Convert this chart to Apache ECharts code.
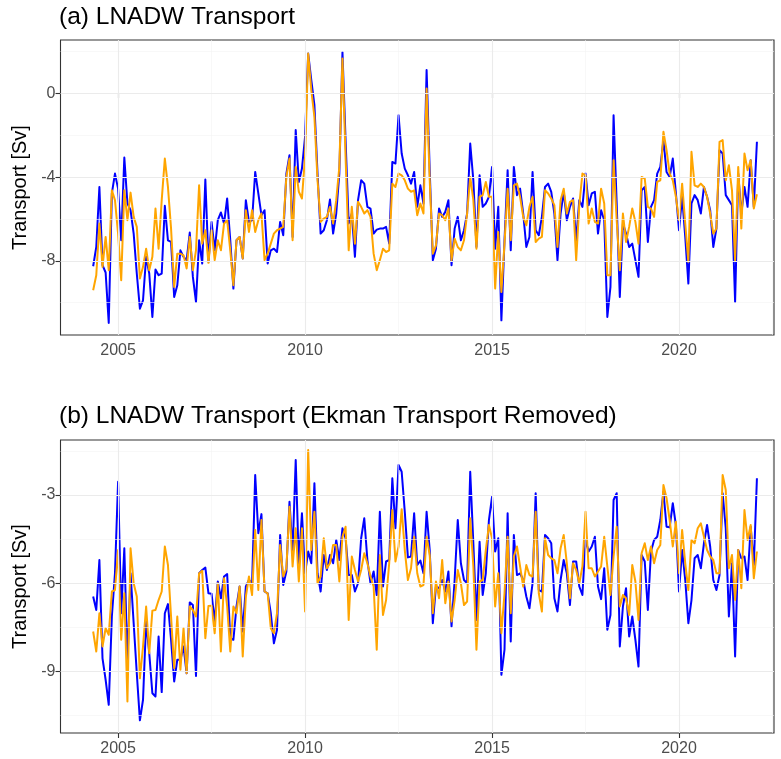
<!DOCTYPE html>
<html>
<head>
<meta charset="utf-8">
<title>LNADW Transport</title>
<script src="https://cdn.jsdelivr.net/npm/echarts@6/dist/echarts.min.js"></script>
<style>
  html, body { margin: 0; padding: 0; background: #ffffff; }
  #chart { width: 781px; height: 759px; }
</style>
</head>
<body>
<div id="chart"></div>
<script>
// Monthly series starting May 2004
const START_YEAR = 2004;
const START_MONTH = 5;

// (a) LNADW transport [Sv]
const blueA = [
  -8.26, -7.34, -4.47, -8.21, -8.56, -10.97, -4.78, -3.83, -4.55, -7.02,
  -3.06, -5.26, -5.58, -6.70, -8.61, -10.29, -9.89, -7.81, -8.61, -10.69,
  -8.42, -8.69, -8.61, -5.37, -7.02, -7.10, -9.73, -9.17, -7.50, -7.81,
  -7.97, -6.65, -8.77, -9.97, -7.02, -8.13, -4.11, -8.05, -6.14, -7.50,
  -6.06, -5.69, -6.22, -5.02, -7.02, -9.33, -7.02, -6.86, -7.89, -5.10,
  -6.14, -6.06, -3.75, -4.78, -5.82, -5.58, -8.13, -7.50, -7.42, -7.58,
  -6.14, -6.78, -3.83, -2.95, -6.86, -1.75, -4.23, -3.59, -2.07, 1.91,
  0.64, -0.56, -3.83, -6.70, -6.54, -6.06, -5.07, -6.70, -5.74, -3.83,
  1.98, -2.23, -6.22, -5.74, -7.81, -5.10, -4.15, -4.31, -5.42, -5.50,
  -6.70, -6.51, -6.46, -6.46, -6.38, -7.18, -3.27, -3.35, -1.04, -2.87,
  -3.59, -3.91, -4.31, -3.75, -5.42, -4.39, -5.26, 1.12, -3.67, -7.97,
  -7.42, -5.50, -5.90, -5.66, -5.10, -8.21, -6.46, -5.90, -7.02, -6.54,
  -5.74, -2.39, -4.15, -7.34, -3.91, -5.42, -5.26, -4.94, -3.51, -7.42,
  -5.42, -10.85, -7.02, -3.67, -7.50, -3.51, -4.86, -4.55, -5.74, -7.34,
  -6.86, -3.75, -6.54, -6.78, -5.90, -4.47, -4.31, -4.70, -5.74, -7.97,
  -5.74, -4.70, -6.06, -5.42, -5.02, -7.02, -5.10, -5.42, -3.83, -5.34,
  -4.78, -4.70, -6.70, -5.58, -6.06, -10.69, -9.25, -1.04, -5.26, -9.73,
  -6.22, -6.70, -7.34, -7.18, -7.97, -8.77, -4.63, -4.47, -7.10, -5.42,
  -5.10, -3.83, -3.51, -2.23, -3.75, -3.99, -3.11, -4.78, -6.54, -4.94,
  -6.86, -9.09, -5.26, -4.86, -5.10, -5.74, -4.47, -4.94, -5.58, -7.34,
  -6.46, -2.71, -2.87, -4.86, -5.10, -5.34, -9.97, -3.83, -5.74, -4.47,
  -5.42, -3.19, -5.42, -2.31
];
const orangeA = [
  -9.41, -8.69, -6.22, -8.29, -6.86, -8.45, -4.63, -5.10, -6.70, -8.93,
  -4.63, -6.06, -4.74, -5.90, -6.38, -8.85, -8.29, -7.42, -8.45, -7.81,
  -5.50, -7.42, -5.10, -3.11, -4.47, -6.46, -9.25, -7.66, -7.66, -7.74,
  -8.37, -6.86, -8.45, -7.50, -4.39, -7.18, -6.54, -8.10, -6.54, -7.97,
  -7.02, -7.50, -6.22, -6.06, -7.50, -9.17, -7.02, -6.86, -7.89, -5.58,
  -6.62, -5.58, -6.62, -6.06, -5.74, -7.97, -7.66, -7.18, -6.70, -6.54,
  -6.46, -6.38, -3.99, -3.11, -7.02, -3.51, -4.70, -5.02, -3.03, 1.91,
  0.16, -1.12, -4.15, -6.14, -5.98, -5.90, -5.42, -6.22, -5.10, -3.51,
  1.67, -3.03, -7.50, -5.42, -7.18, -5.18, -5.42, -5.74, -5.58, -5.90,
  -7.66, -8.45, -7.97, -7.42, -7.58, -7.50, -4.31, -4.47, -3.83, -3.91,
  -4.15, -4.55, -4.70, -4.63, -5.82, -5.26, -5.74, 0.24, -4.15, -7.66,
  -7.26, -5.74, -5.82, -6.06, -5.50, -7.97, -6.94, -7.34, -7.50, -7.02,
  -5.74, -3.99, -5.10, -7.42, -4.94, -4.86, -4.23, -4.94, -4.94, -9.33,
  -6.62, -9.49, -7.18, -4.55, -7.02, -4.39, -4.31, -4.94, -5.90, -6.30,
  -5.42, -4.94, -7.10, -6.94, -6.86, -4.63, -4.78, -5.02, -5.34, -7.34,
  -5.10, -4.55, -5.74, -5.18, -5.10, -7.97, -5.34, -3.83, -3.91, -6.22,
  -5.50, -6.14, -6.22, -4.55, -5.26, -8.69, -8.69, -3.19, -6.06, -8.45,
  -5.74, -7.10, -6.38, -5.50, -6.14, -7.18, -3.99, -4.07, -5.42, -5.50,
  -5.90, -4.23, -4.15, -1.83, -2.71, -3.83, -4.15, -4.94, -6.06, -4.31,
  -6.22, -8.05, -2.79, -4.39, -4.47, -4.31, -4.47, -4.94, -5.74, -6.70,
  -6.46, -2.31, -2.23, -4.15, -3.43, -4.63, -7.97, -3.51, -6.46, -2.87,
  -3.67, -3.19, -5.50, -4.82
];

// (b) LNADW transport with Ekman transport removed [Sv]
const blueB = [
  -6.45, -6.91, -5.21, -8.55, -9.28, -10.13, -7.13, -5.66, -2.55, -7.02,
  -4.81, -8.72, -5.66, -7.36, -9.06, -10.66, -9.96, -7.30, -8.38, -9.74,
  -9.85, -7.81, -9.70, -7.02, -6.71, -7.92, -9.34, -8.60, -8.60, -8.15,
  -9.06, -6.65, -6.74, -9.15, -5.66, -5.55, -5.47, -6.34, -6.36, -7.30,
  -5.94, -6.51, -5.77, -5.69, -7.87, -7.92, -6.79, -6.11, -7.64, -6.11,
  -5.89, -6.00, -2.32, -4.30, -3.65, -6.28, -6.34, -7.02, -8.04, -7.58,
  -4.36, -6.06, -5.60, -3.23, -4.92, -1.81, -5.32, -3.62, -5.66, -4.92,
  -5.32, -2.60, -5.66, -6.28, -5.04, -5.55, -5.04, -5.32, -4.53, -5.21,
  -4.13, -4.47, -5.72, -5.72, -6.28, -6.00, -4.47, -3.79, -5.21, -6.00,
  -5.60, -6.40, -3.57, -6.11, -5.26, -5.21, -2.43, -4.13, -1.98, -2.21,
  -3.57, -5.12, -5.09, -3.62, -5.38, -5.23, -5.66, -3.57, -4.87, -7.36,
  -6.11, -6.17, -5.89, -6.28, -5.60, -7.47, -5.89, -3.85, -5.32, -5.89,
  -6.00, -2.21, -4.64, -7.25, -4.59, -6.40, -5.66, -3.85, -3.06, -4.92,
  -4.47, -9.11, -8.26, -3.62, -7.98, -4.36, -5.72, -5.66, -5.89, -6.45,
  -6.85, -6.00, -2.94, -6.23, -6.28, -4.36, -4.47, -4.64, -6.51, -6.96,
  -5.89, -5.21, -5.66, -6.74, -5.26, -5.26, -6.11, -6.40, -4.53, -4.92,
  -4.75, -4.42, -6.11, -6.54, -5.49, -7.58, -7.08, -3.17, -2.94, -8.15,
  -6.79, -6.17, -7.81, -7.13, -7.92, -8.83, -5.04, -5.26, -6.91, -4.92,
  -4.53, -4.42, -3.85, -2.89, -4.08, -4.10, -3.28, -4.02, -6.28, -4.87,
  -5.89, -7.36, -6.57, -5.15, -5.04, -5.49, -4.64, -4.02, -4.75, -5.89,
  -6.23, -5.72, -2.94, -4.13, -7.13, -5.32, -8.49, -4.87, -5.15, -5.09,
  -5.89, -4.08, -5.38, -2.43
];
const orangeB = [
  -7.64, -8.32, -7.02, -8.15, -7.53, -7.75, -6.28, -6.23, -4.87, -7.92,
  -6.34, -10.02, -4.81, -6.00, -6.45, -9.23, -8.15, -6.79, -8.38, -6.93,
  -6.91, -6.57, -6.28, -4.75, -5.38, -7.13, -8.89, -7.13, -8.94, -7.53,
  -9.06, -6.79, -6.91, -7.13, -5.66, -5.58, -7.87, -6.77, -6.76, -7.70,
  -6.00, -8.32, -5.83, -6.79, -8.32, -6.79, -7.02, -6.11, -8.49, -6.45,
  -5.77, -6.40, -4.19, -6.23, -3.85, -6.28, -6.34, -7.53, -7.70, -7.02,
  -4.70, -5.77, -5.49, -3.40, -5.43, -4.13, -5.94, -4.13, -6.96, -1.47,
  -4.87, -3.57, -6.00, -5.77, -4.47, -5.49, -5.32, -4.70, -4.70, -5.94,
  -4.42, -4.08, -7.25, -5.09, -5.55, -5.94, -5.55, -4.98, -5.32, -5.77,
  -6.11, -8.26, -5.04, -7.08, -6.57, -5.32, -3.51, -5.26, -4.75, -3.48,
  -4.87, -5.89, -5.49, -4.42, -5.66, -6.11, -6.06, -4.42, -5.04, -7.02,
  -5.94, -6.51, -5.21, -6.68, -5.94, -7.30, -6.57, -5.55, -6.00, -6.74,
  -6.62, -3.79, -5.43, -8.26, -5.94, -5.89, -4.87, -4.02, -4.47, -6.79,
  -5.66, -7.70, -6.34, -4.42, -7.02, -5.09, -4.75, -5.43, -6.11, -5.38,
  -5.72, -5.77, -3.57, -6.34, -6.96, -4.47, -5.04, -5.15, -5.21, -5.66,
  -4.81, -4.36, -5.32, -6.51, -5.32, -5.55, -6.00, -5.43, -3.57, -5.49,
  -5.49, -5.77, -5.60, -5.43, -4.42, -5.43, -6.40, -5.09, -4.08, -6.79,
  -6.40, -6.51, -7.08, -5.38, -5.94, -7.25, -4.98, -4.64, -5.21, -4.75,
  -5.32, -4.87, -4.70, -2.66, -3.11, -3.85, -4.75, -3.91, -5.66, -4.19,
  -5.32, -6.23, -4.53, -4.64, -4.13, -3.96, -4.42, -4.87, -5.09, -5.21,
  -5.66, -5.66, -2.32, -2.83, -5.49, -5.04, -6.57, -4.87, -6.17, -3.51,
  -4.53, -4.02, -5.83, -4.92
];

// Axis breaks
const xTicks = [2005, 2010, 2015, 2020];
const xMinor = [2007.5, 2012.5, 2017.5, 2022.5];
const yTicksA = [-8, -4, 0];
const yMinorA = [-10, -6, -2, 2];
const yTicksB = [-9, -6, -3];
const yMinorB = [-10.5, -7.5, -4.5, -1.5];

const titleA = '(a) LNADW Transport';
const titleB = '(b) LNADW Transport (Ekman Transport Removed)';
const yName = 'Transport [Sv]';

const FONT = '"Liberation Sans", Arial, Helvetica, sans-serif';

function toPairs(values) {
  return values.map((v, i) => [START_YEAR + (START_MONTH - 1 + i) / 12, v]);
}

function gridLines(xMajor, xMin, yMajor, yMin) {
  const major = { color: '#ebebeb', width: 1.1, type: 'solid' };
  const minor = { color: '#f3f3f3', width: 0.6, type: 'solid' };
  const out = [];
  xMin.forEach(v => out.push({ xAxis: v, lineStyle: minor }));
  yMin.forEach(v => out.push({ yAxis: v, lineStyle: minor }));
  xMajor.forEach(v => out.push({ xAxis: v, lineStyle: major }));
  yMajor.forEach(v => out.push({ yAxis: v, lineStyle: major }));
  return out;
}

function backgroundSeries(idx, yMajor, yMin) {
  return {
    type: 'line', xAxisIndex: idx, yAxisIndex: idx, data: [], silent: true, z: 0,
    markLine: {
      silent: true, symbol: 'none', animation: false,
      label: { show: false }, emphasis: { disabled: true },
      data: gridLines(xTicks, xMinor, yMajor, yMin)
    }
  };
}

function dataSeries(idx, values, color) {
  return {
    type: 'line', xAxisIndex: idx, yAxisIndex: idx, data: toPairs(values),
    showSymbol: false, symbol: 'none', silent: true, animation: false, z: 3,
    lineStyle: { color: color, width: 2, join: 'round' }
  };
}

function xAxisFor(idx) {
  return {
    type: 'value', gridIndex: idx, min: 2003.46, max: 2022.54,
    axisLine: { show: false },
    axisTick: { show: true, length: 5, customValues: xTicks, lineStyle: { color: '#333333', width: 1.1 } },
    axisLabel: {
      customValues: xTicks, margin: 8, color: '#4d4d4d', fontSize: 16, fontFamily: FONT,
      formatter: v => String(v)
    },
    splitLine: { show: false }
  };
}

function yAxisFor(idx, min, max, ticks) {
  return {
    type: 'value', gridIndex: idx, min: min, max: max,
    name: yName, nameLocation: 'middle', nameGap: 27, nameRotate: 90,
    nameTextStyle: { color: '#000000', fontSize: 20, fontFamily: FONT },
    axisLine: { show: false },
    axisTick: { show: true, length: 5, customValues: ticks, lineStyle: { color: '#333333', width: 1.1 } },
    axisLabel: {
      customValues: ticks, margin: 5, color: '#4d4d4d', fontSize: 16, fontFamily: FONT,
      formatter: v => String(v)
    },
    splitLine: { show: false }
  };
}

const chart = echarts.init(document.getElementById('chart'), null, { renderer: 'canvas' });
chart.setOption({
  animation: false,
  backgroundColor: '#ffffff',
  title: [
    { text: titleA, left: 59, top: 5, padding: 0,
      textStyle: { fontSize: 24.5, fontWeight: 'normal', color: '#000000', fontFamily: FONT } },
    { text: titleB, left: 59, top: 404, padding: 0,
      textStyle: { fontSize: 24.5, fontWeight: 'normal', color: '#000000', fontFamily: FONT } }
  ],
  grid: [
    { left: 60.5, top: 40, width: 713.5, height: 295, show: true,
      borderColor: '#333333', borderWidth: 1.1, backgroundColor: '#ffffff', containLabel: false },
    { left: 60.5, top: 440, width: 713.5, height: 293, show: true,
      borderColor: '#333333', borderWidth: 1.1, backgroundColor: '#ffffff', containLabel: false }
  ],
  xAxis: [xAxisFor(0), xAxisFor(1)],
  yAxis: [yAxisFor(0, -11.55, 2.56, yTicksA), yAxisFor(1, -11.09, -1.13, yTicksB)],
  series: [
    backgroundSeries(0, yTicksA, yMinorA),
    backgroundSeries(1, yTicksB, yMinorB),
    dataSeries(0, blueA, '#0000ff'),
    dataSeries(0, orangeA, '#ffa500'),
    dataSeries(1, blueB, '#0000ff'),
    dataSeries(1, orangeB, '#ffa500')
  ]
});
</script>
</body>
</html>
